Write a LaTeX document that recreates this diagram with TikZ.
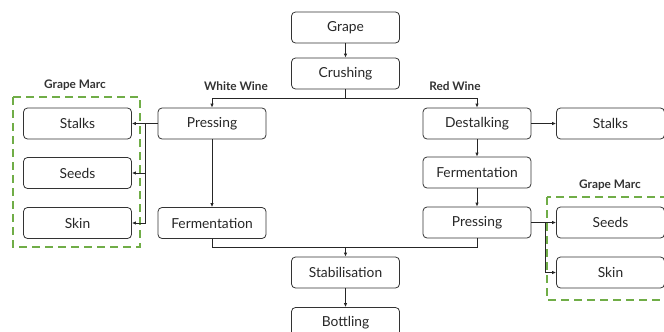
\documentclass[tikz,border=0pt]{standalone}
\usepackage{fontspec}
\setmainfont{Lato}
\usetikzlibrary{arrows.meta}
\definecolor{marcgreen}{RGB}{112,173,71}

\begin{document}
\begin{tikzpicture}[x=1pt, y=-1pt,
    step box/.style={draw=black!80, line width=0.8pt, rounded corners=4pt,
      minimum width=108pt, minimum height=31pt, inner sep=0pt,
      font=\fontsize{13.8}{15}\selectfont, text=black!85},
    arr/.style={-{Latex[length=4pt,width=3.5pt]}, line width=0.8pt, black!85},
    conn/.style={line width=0.8pt, black!85},
    lbl/.style={font=\fontsize{11.8}{13}\selectfont\bfseries, text=black!80},
    marc/.style={draw=marcgreen, line width=2.2pt, dash pattern=on 8pt off 5pt}]
    \useasboundingbox (0,0) rectangle (664,332);
    % main line
    \node[step box] (grape) at (345.5,27.5) {Grape};
    \node[step box] (crush) at (345.5,73.5) {Crushing};
    \node[step box] (stab) at (345.5,272.5) {Stabilisation};
    \node[step box] (bottle) at (345.5,323) {Bottling};
    % white wine
    \node[lbl] (white) at (236,86) {White Wine};
    \node[step box] (wpress) at (212,123.5) {Pressing};
    \node[step box] (wferm) at (212,223) {Fermentation};
    \node[step box] (lstalks) at (77.5,123.5) {Stalks};
    \node[step box] (lseeds) at (77.5,173) {Seeds};
    \node[step box] (lskin) at (77.5,223) {Skin};
    % red wine
    \node[lbl] (red) at (455,86) {Red Wine};
    \node[step box] (destalk) at (477,123.5) {Destalking};
    \node[step box] (rferm) at (477,172.5) {Fermentation};
    \node[step box] (rpress) at (477,222.5) {Pressing};
    \node[step box] (rstalks) at (610.5,123.5) {Stalks};
    \node[step box] (rseeds) at (610.5,222.5) {Seeds};
    \node[step box] (rskin) at (610.5,272.5) {Skin};
    % grape marc
    \node[lbl] (lmarc) at (75,85) {Grape Marc};
    \node[lbl] (rmarc) at (610,185) {Grape Marc};
    \draw[marc] (13,97) rectangle (140,247);
    \draw[marc] (547,197) rectangle (680,300);

    \coordinate (split) at (345.5,98);
    \coordinate (merge) at (345.5,247);
    \coordinate (lbr) at (145,123.5);
    \coordinate (rbr) at (545,222.5);

    \draw[arr] (grape) -- (crush);
    \draw[conn] (crush) -- (split);
    \draw[arr] (split) -| (wpress);
    \draw[arr] (split) -| (destalk);
    \draw[arr] (wpress) -- (lstalks);
    \draw[arr] (lbr) |- (lseeds);
    \draw[arr] (lbr) |- (lskin);
    \draw[arr] (wpress) -- (wferm);
    \draw[conn] (wferm) |- (merge);
    \draw[conn] (rpress) |- (merge);
    \draw[arr] (merge) -- (stab);
    \draw[arr] (stab) -- (bottle);
    \draw[arr] (destalk) -- (rstalks);
    \draw[arr] (destalk) -- (rferm);
    \draw[arr] (rferm) -- (rpress);
    \draw[arr] (rpress) -- (rseeds);
    \draw[arr] (rbr) |- (rskin);
\end{tikzpicture}
\end{document}
